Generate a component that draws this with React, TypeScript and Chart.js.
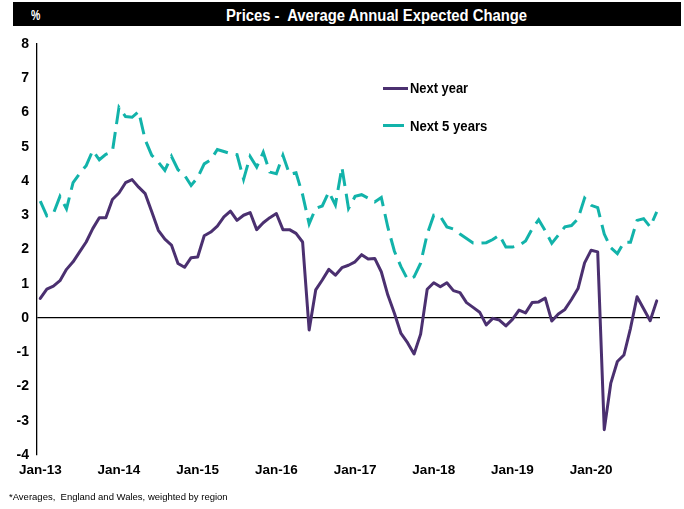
import { useEffect, useRef } from "react";
import { Chart, registerables } from "chart.js";

Chart.register(...registerables);

const months = [
  "Jan-13", "Feb-13", "Mar-13", "Apr-13", "May-13", "Jun-13", "Jul-13", "Aug-13", "Sep-13", "Oct-13", "Nov-13", "Dec-13",
  "Jan-14", "Feb-14", "Mar-14", "Apr-14", "May-14", "Jun-14", "Jul-14", "Aug-14", "Sep-14", "Oct-14", "Nov-14", "Dec-14",
  "Jan-15", "Feb-15", "Mar-15", "Apr-15", "May-15", "Jun-15", "Jul-15", "Aug-15", "Sep-15", "Oct-15", "Nov-15", "Dec-15",
  "Jan-16", "Feb-16", "Mar-16", "Apr-16", "May-16", "Jun-16", "Jul-16", "Aug-16", "Sep-16", "Oct-16", "Nov-16", "Dec-16",
  "Jan-17", "Feb-17", "Mar-17", "Apr-17", "May-17", "Jun-17", "Jul-17", "Aug-17", "Sep-17", "Oct-17", "Nov-17", "Dec-17",
  "Jan-18", "Feb-18", "Mar-18", "Apr-18", "May-18", "Jun-18", "Jul-18", "Aug-18", "Sep-18", "Oct-18", "Nov-18", "Dec-18",
  "Jan-19", "Feb-19", "Mar-19", "Apr-19", "May-19", "Jun-19", "Jul-19", "Aug-19", "Sep-19", "Oct-19", "Nov-19", "Dec-19",
  "Jan-20", "Feb-20", "Mar-20", "Apr-20", "May-20", "Jun-20", "Jul-20", "Aug-20", "Sep-20", "Oct-20", "Nov-20",
];

const tickLabels = ["Jan-13", "Jan-14", "Jan-15", "Jan-16", "Jan-17", "Jan-18", "Jan-19", "Jan-20"];

const nextYear = [
  0.57, 0.84, 0.93, 1.09, 1.42, 1.64, 1.93, 2.22, 2.61, 2.93, 2.93, 3.46,
  3.65, 3.95, 4.04, 3.82, 3.63, 3.10, 2.56, 2.30, 2.13, 1.59, 1.48, 1.76,
  1.78, 2.40, 2.51, 2.68, 2.95, 3.12, 2.85, 3.00, 3.08, 2.58, 2.78, 2.93,
  3.05, 2.58, 2.58, 2.47, 2.22, -0.35, 0.82, 1.11, 1.42, 1.25, 1.47, 1.54,
  1.64, 1.85, 1.72, 1.74, 1.35, 0.67, 0.14, -0.45, -0.72, -1.05, -0.47, 0.84,
  1.03, 0.91, 1.03, 0.80, 0.74, 0.45, 0.31, 0.17, -0.20, -0.01, -0.06, -0.23,
  -0.04, 0.23, 0.15, 0.45, 0.47, 0.58, -0.09, 0.12, 0.25, 0.54, 0.86, 1.61,
  1.98, 1.93, -3.26, -1.90, -1.27, -1.08, -0.30, 0.62, 0.27, -0.08, 0.50,
];

const next5Years = [
  3.41, 2.98, 3.05, 3.55, 3.19, 3.95, 4.22, 4.45, 4.89, 4.62, 4.78, 4.86,
  6.15, 5.88, 5.86, 6.03, 5.20, 4.75, 4.55, 4.31, 4.72, 4.33, 4.17, 3.87,
  4.10, 4.50, 4.62, 4.92, 4.86, 4.80, 4.77, 4.05, 4.72, 4.41, 4.84, 4.26,
  4.21, 4.75, 4.20, 4.24, 3.60, 2.75, 3.20, 3.27, 3.68, 3.30, 4.40, 3.20,
  3.55, 3.60, 3.50, 3.39, 3.52, 2.65, 1.95, 1.50, 1.13, 1.20, 1.60, 2.45,
  3.00, 2.97, 2.66, 2.60, 2.45, 2.32, 2.19, 2.19, 2.20, 2.29, 2.42, 2.07,
  2.07, 2.12, 2.25, 2.60, 2.87, 2.55, 2.18, 2.42, 2.66, 2.70, 2.90, 3.50,
  3.29, 3.22, 2.45, 2.05, 1.88, 2.21, 2.21, 2.85, 2.90, 2.66, 3.10,
];

const PURPLE = "#4b3070";
const TEAL = "#12b3aa";
const FONT = '"Liberation Sans Narrow", "Arial Narrow", "Liberation Sans", Arial, sans-serif';

const squeeze = (k: number) => ({ transform: `scaleX(${k})`, transformOrigin: "0 0" });

export default function App() {
  const canvasRef = useRef<HTMLCanvasElement | null>(null);

  useEffect(() => {
    const canvas = canvasRef.current;
    if (!canvas) return;
    const chart = new Chart(canvas, {
      type: "line",
      data: {
        labels: months,
        datasets: [
          {
            label: "Next year",
            data: nextYear,
            borderColor: PURPLE,
            borderWidth: 3,
            pointRadius: 0,
            tension: 0,
            borderJoinStyle: "round",
            borderCapStyle: "round",
          },
          {
            label: "Next 5 years",
            data: next5Years,
            borderColor: TEAL,
            borderWidth: 3,
            borderDash: [17, 8],
            pointRadius: 0,
            tension: 0,
            borderCapStyle: "butt",
          },
        ],
      },
      options: {
        animation: false,
        responsive: false,
        maintainAspectRatio: false,
        layout: { padding: { left: 8, right: 24, top: 44, bottom: 24 } },
        plugins: {
          legend: { display: false },
          title: { display: false },
          tooltip: { enabled: false },
        },
        scales: {
          x: {
            type: "category",
            offset: true,
            grid: { display: false, drawTicks: false },
            border: { display: false },
            ticks: {
              autoSkip: false,
              maxRotation: 0,
              minRotation: 0,
              padding: 7,
              color: "#000",
              font: { family: FONT, size: 13.5, weight: "bold" },
              callback: (_v: any, i: number) => (tickLabels.includes(months[i]) ? months[i] : ""),
            },
            afterFit: (scale: any) => {
              scale.height = 30;
            },
          },
          y: {
            min: -4,
            max: 8,
            ticks: {
              stepSize: 1,
              padding: 8,
              color: "#000",
              font: { family: FONT, size: 14, weight: "bold" },
            },
            grid: {
              drawTicks: false,
              lineWidth: 1.3,
              color: (ctx: any) => (ctx.tick && ctx.tick.value === 0 ? "#000" : "rgba(0,0,0,0)"),
            },
            border: { display: true, color: "#000", width: 1.3 },
            afterFit: (scale: any) => {
              scale.width = 29;
            },
          },
        },
      },
    });
    return () => chart.destroy();
  }, []);

  return (
    <div style={{ position: "fixed", left: 0, top: 0, width: 684, height: 509, background: "#fff", overflow: "hidden" }}>
      <canvas ref={canvasRef} width={684} height={509} style={{ position: "absolute", left: 0, top: 0, width: 684, height: 509 }} />
      <div style={{ position: "absolute", left: 13, top: 2, width: 668, height: 24, background: "#000" }} />
      <div style={{ position: "absolute", left: 31, top: 7, font: `bold 15px/15px ${FONT}`, color: "#fff", whiteSpace: "pre", ...squeeze(0.7) }}>%</div>
      <div style={{ position: "absolute", left: 226, top: 8, font: `bold 16px/16px ${FONT}`, color: "#fff", whiteSpace: "pre", ...squeeze(0.925) }}>
        Prices -  Average Annual Expected Change
      </div>
      <div style={{ position: "absolute", left: 383, top: 87, width: 25, height: 3, background: PURPLE }} />
      <div style={{ position: "absolute", left: 410, top: 80, font: `bold 15px/15px ${FONT}`, color: "#000", whiteSpace: "pre", ...squeeze(0.86) }}>Next year</div>
      <div style={{ position: "absolute", left: 383, top: 124, width: 21, height: 3, background: TEAL }} />
      <div style={{ position: "absolute", left: 410, top: 118, font: `bold 15px/15px ${FONT}`, color: "#000", whiteSpace: "pre", ...squeeze(0.875) }}>Next 5 years</div>
      <div style={{ position: "absolute", left: 9, top: 491, font: `9.5px/11px "Liberation Sans", Arial, sans-serif`, color: "#000", whiteSpace: "pre" }}>
        *Averages,  England and Wales, weighted by region
      </div>
    </div>
  );
}
